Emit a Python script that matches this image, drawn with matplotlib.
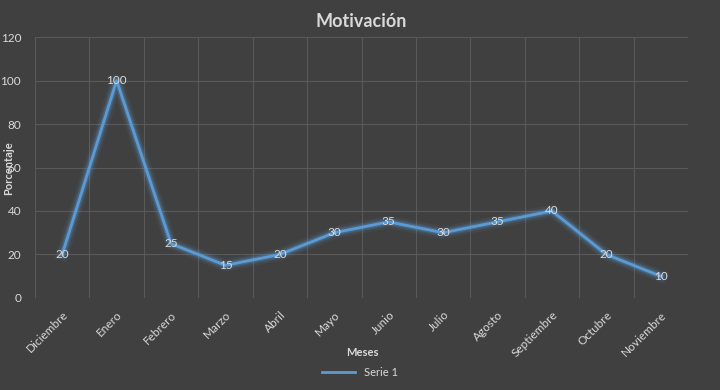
import matplotlib.pyplot as plt

meses = ["Diciembre", "Enero", "Febrero", "Marzo", "Abril", "Mayo", "Junio",
         "Julio", "Agosto", "Septiembre", "Octubre", "Noviembre"]
porcentaje = [20, 100, 25, 15, 20, 30, 35, 30, 35, 40, 20, 10]
y_ticks = [0, 20, 40, 60, 80, 100, 120]

bg = "#404040"
grid_c = "#595959"
text_c = "#d9d9d9"
line_c = "#5b9bd5"

plt.rcParams["font.family"] = ["Lato", "DejaVu Sans"]

fig = plt.figure(figsize=(7.2, 3.9), dpi=100, facecolor=bg)
ax = fig.add_axes([0.0486, 0.236, 0.907, 0.669], facecolor=bg)

x = list(range(len(meses)))
# glow underneath the line
for lw, a in [(9, 0.08), (6, 0.15), (4, 0.25)]:
    ax.plot(x, porcentaje, color=line_c, lw=lw, alpha=a, solid_joinstyle="round")
ax.plot(x, porcentaje, color=line_c, lw=2, label="Serie 1")

for xi, v in zip(x, porcentaje):
    ax.text(xi, v, str(v), ha="center", va="center", fontsize=8.5, color=text_c)

ax.set_xlim(-0.5, len(meses) - 0.5)
ax.set_ylim(0, 120)
ax.set_yticks(y_ticks)
ax.set_xticks([i - 0.5 for i in range(len(meses) + 1)])
ax.set_xticklabels([])
ax.set_xticks(x, minor=True)
ax.set_xticklabels(meses, minor=True, rotation=45, ha="right",
                   rotation_mode="anchor", fontsize=8.5, color=text_c)
ax.tick_params(axis="x", which="both", length=0, pad=8)
ax.tick_params(axis="y", length=0, labelsize=8.5, labelcolor=text_c, pad=10)
ax.grid(True, which="major", color=grid_c, lw=0.8)
for s in ax.spines.values():
    s.set_visible(False)

ax.set_title("Motivación", fontsize=13, fontweight="bold", color=text_c, pad=7)
fig.text(0.503, 0.097, "Meses", ha="center", va="center", fontsize=8,
         fontweight="bold", color=text_c)
fig.text(0.012, 0.57, "Porcentaje", ha="center", va="center", rotation=90,
         fontsize=8, fontweight="bold", color=text_c)

leg = fig.legend(loc="center", bbox_to_anchor=(0.5, 0.045), frameon=False,
                 fontsize=8, handlelength=3)
for t in leg.get_texts():
    t.set_color(text_c)

fig.savefig("out.png", dpi=100, facecolor=bg)
